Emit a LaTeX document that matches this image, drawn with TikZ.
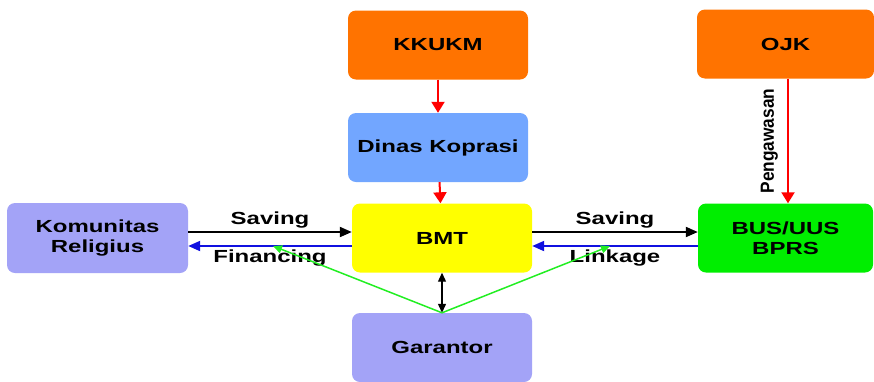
\documentclass[tikz,border=0pt]{standalone}
\usepackage{fontspec}
\setmainfont{Liberation Sans}
\newfontfamily\widefont[FakeStretch=1.37]{Liberation Sans}
\newfontfamily\narrowfont[FakeStretch=0.91]{Liberation Sans}
\usetikzlibrary{arrows.meta}
\definecolor{govorange}{HTML}{FF7300}
\definecolor{dinasblue}{HTML}{72A6FF}
\definecolor{lavender}{HTML}{A3A3F7}
\definecolor{bmtyellow}{HTML}{FFFF00}
\definecolor{bankgreen}{HTML}{00EE00}
\definecolor{flowblue}{HTML}{1010E0}
\definecolor{guarantgreen}{HTML}{22EE22}

\begin{document}
\begin{tikzpicture}[x=1pt,y=-1pt,
    box/.style={rounded corners=8pt, minimum width=180pt, minimum height=69pt,
      inner sep=0pt, align=center, font=\widefont\bfseries\fontsize{17.5}{20}\selectfont},
    lbl/.style={font=\widefont\bfseries\fontsize{17.5}{20}\selectfont, inner sep=3pt},
    superv/.style={draw=red, line width=2pt, -{Triangle[width=13pt,length=11pt]}},
    flow/.style={line width=2pt, -{Triangle[width=10pt,length=12pt]}},
    guar/.style={draw=guarantgreen, line width=1.5pt, -{Triangle[width=8pt,length=9pt]}}]
  \useasboundingbox (0,0) rectangle (874,381);
  % upper row
  \node[box, fill=govorange] (KK) at (438,45) {KKUKM};
  \node[box, fill=dinasblue] (DK) at (438,147.5) {Dinas Koprasi};
  \node[box, fill=govorange, minimum width=177pt] (OJK) at (785.5,44) {OJK};
  % middle row
  \node[box, fill=lavender, minimum width=181pt, minimum height=70pt] (KR) at (97.5,238) {Komunitas\\Religius};
  \node[box, fill=bmtyellow] (BMT) at (442,238) {BMT};
  \node[box, fill=bankgreen, minimum width=175pt] (BUS) at (785.5,238) {BUS/UUS\\BPRS};
  % bottom
  \node[box, fill=lavender] (GR) at (442,347.5) {Garantor};

  \draw[superv] (KK) -- (DK);
  \draw[superv] (DK) -- (BMT);
  \draw[superv] ([xshift=2.5pt]OJK.south) -- ([xshift=2.5pt]BUS.north)
    node[midway, rotate=90, anchor=south, inner sep=9pt,
      font=\narrowfont\bfseries\fontsize{19}{21}\selectfont] {Pengawasan};

  \draw[flow, draw=black] ([yshift=6pt]KR.east) -- ([yshift=6pt]BMT.west)
    node[midway, above, lbl] {Saving};
  \draw[flow, draw=flowblue] ([yshift=-8pt]BMT.west) -- ([yshift=-8pt]KR.east)
    node[midway, below, lbl] {Financing};
  \draw[flow, draw=black] ([yshift=6pt]BMT.east) -- ([yshift=6pt]BUS.west)
    node[midway, above, lbl] {Saving};
  \draw[flow, draw=flowblue] ([yshift=-8pt]BUS.west) -- ([yshift=-8pt]BMT.east)
    node[midway, below, lbl] {Linkage};

  \draw[line width=1.2pt, {Triangle[width=8pt,length=9pt]}-{Triangle[width=8pt,length=9pt]}] (BMT) -- (GR);

  \coordinate (finpt) at (273,246);
  \coordinate (linkpt) at (610,246);
  \draw[guar] (GR.north) -- (finpt);
  \draw[guar] (GR.north) -- (linkpt);
\end{tikzpicture}
\end{document}
